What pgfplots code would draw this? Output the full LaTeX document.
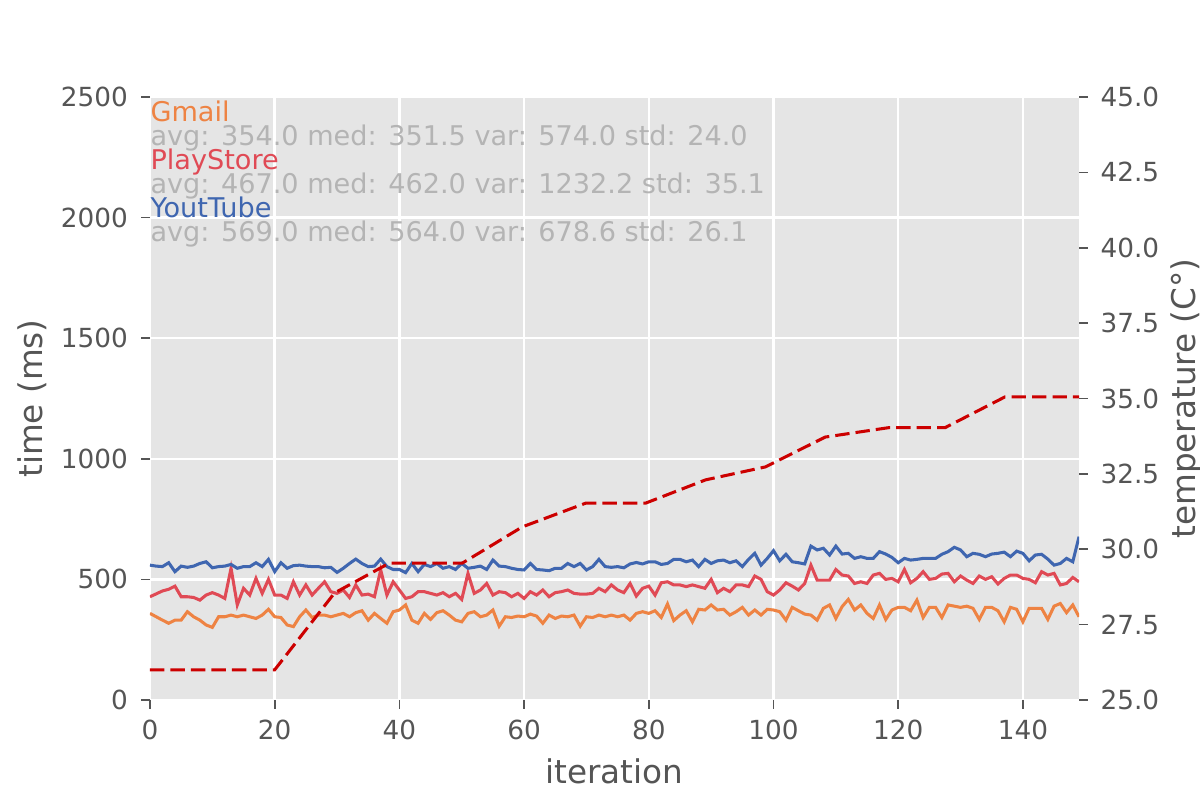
\documentclass[border=0pt]{standalone}
\usepackage{fontspec}
\setmainfont{DejaVu Sans}
\usepackage{pgfplots}
\usepackage{pgfplotstable}
\pgfplotsset{compat=1.18}
\definecolor{bg}{HTML}{E5E5E5}
\definecolor{tickc}{HTML}{555555}
\definecolor{gm}{HTML}{EE8343}
\definecolor{ps}{HTML}{E04A55}
\definecolor{yt}{HTML}{3F66B0}
\definecolor{tmp}{HTML}{CC0000}
\definecolor{anno}{HTML}{B4B4B4}

\pgfplotstableread{
i g p y
0 359 428 559
1 345 440 555
2 331 452 553
3 318 459 569
4 331 472 532
5 331 428 555
6 366 428 550
7 345 425 555
8 331 414 566
9 311 435 573
10 301 445 548
11 345 435 553
12 345 421 555
13 352 546 562
14 345 394 546
15 352 463 553
16 345 435 553
17 338 504 569
18 352 442 553
19 376 500 583
20 345 435 532
21 342 435 569
22 311 421 546
23 304 490 557
24 345 435 559
25 373 477 555
26 342 435 553
27 352 463 553
28 352 490 548
29 345 449 550
30 352 442 529
31 359 456 546
32 345 425 566
33 362 477 584
34 370 435 566
35 331 439 553
36 359 428 555
37 338 539 584
38 318 435 553
39 366 490 541
40 373 456 541
41 394 421 528
42 331 428 566
43 318 449 532
44 359 449 562
45 334 442 553
46 362 435 566
47 370 445 546
48 352 428 553
49 331 442 541
50 324 417 566
51 359 525 546
52 366 442 550
53 345 456 555
54 352 483 541
55 373 435 580
56 306 449 555
57 345 445 553
58 342 428 546
59 348 442 541
60 345 421 539
61 356 449 566
62 348 435 541
63 318 456 539
64 352 428 536
65 338 445 546
66 348 449 546
67 345 456 566
68 352 442 553
69 306 439 566
70 345 439 539
71 342 442 553
72 352 463 583
73 345 449 553
74 352 477 550
75 345 456 553
76 352 445 548
77 331 483 564
78 359 431 570
79 366 463 564
80 359 472 573
81 370 435 573
82 342 486 562
83 398 490 566
84 329 477 583
85 352 477 583
86 370 470 573
87 324 477 580
88 376 470 553
89 373 463 583
90 394 500 566
91 373 445 577
92 376 463 580
93 352 449 569
94 366 477 577
95 384 477 553
96 352 470 583
97 373 514 608
98 352 500 559
99 376 449 587
100 373 435 619
101 366 456 577
102 331 486 604
103 384 472 573
104 370 456 569
105 356 483 564
106 352 559 638
107 331 497 622
108 380 497 629
109 394 497 601
110 338 541 638
111 387 518 605
112 417 514 608
113 373 483 587
114 394 490 594
115 359 483 587
116 338 518 587
117 394 525 615
118 334 500 605
119 373 504 591
120 384 490 569
121 384 541 587
122 370 486 580
123 414 504 583
124 342 532 587
125 384 500 587
126 384 504 587
127 342 522 604
128 394 525 615
129 389 490 633
130 384 514 622
131 389 497 594
132 380 483 608
133 334 514 604
134 384 500 594
135 384 511 605
136 370 481 608
137 324 504 613
138 384 518 594
139 376 518 617
140 324 504 608
141 380 500 577
142 380 486 601
143 380 532 604
144 334 518 584
145 389 525 559
146 400 477 566
147 362 483 587
148 394 508 573
149 345 490 677
}\timing

\pgfplotstableread{
i t
0 26.0
20 26.0
29.6 28.55
38.4 29.54
50.1 29.54
59.7 30.74
69.9 31.53
79.5 31.53
89.1 32.3
98.7 32.73
108.3 33.72
118.4 34.03
127.5 34.03
137.1 35.05
149 35.05
}\temps

\pgfplotsset{
  common/.style={
    scale only axis,
    width=335.7pt, height=217.9pt,
    at={(54.2pt,36.14pt)}, anchor=south west,
    xmin=0, xmax=149,
    axis line style={draw=none},
    tick align=outside,
    major tick length=3.2pt,
    every tick/.style={tickc, line width=0.6pt},
    tick label style={font=\fontsize{9.5}{11.4}\selectfont, text=tickc},
    /pgf/number format/assume math mode=true,
    /pgf/number format/1000 sep={},
    scaled ticks=false,
  }
}

\begin{document}
\begin{tikzpicture}
\useasboundingbox (0,0) rectangle (433.62pt,289.08pt);
\begin{axis}[common,
  ymin=0, ymax=2500,
  xtick={0,20,...,140},
  ytick={0,500,...,2500},
  tick pos=left,
  axis background/.style={fill=bg},
  grid=major,
  major grid style={white, line width=0.9pt},
  xticklabel style={inner sep=0pt, anchor=north, yshift=-4pt},
  yticklabel style={inner sep=0pt, anchor=east, xshift=-4.6pt},
  xlabel={iteration}, ylabel={time (ms)},
  every axis x label/.style={at={(axis description cs:0.5,-0.119)}, anchor=center,
    font=\fontsize{11.8}{14}\selectfont, text=tickc},
  every axis y label/.style={at={(axis description cs:-0.127,0.5)}, rotate=90, anchor=center,
    font=\fontsize{11.8}{14}\selectfont, text=tickc},
]
\addplot[gm, line width=1.1pt] table[x=i, y=g] {\timing};
\addplot[ps, line width=1.1pt] table[x=i, y=p] {\timing};
\addplot[yt, line width=1.1pt] table[x=i, y=y] {\timing};
\begin{scope}[every node/.style={anchor=base west, inner sep=0pt, font=\fontsize{9.8}{12}\selectfont}]
\node[text=gm] at (axis cs:0,2400) {Gmail};
\node[text=anno] at (axis cs:0,2300) {avg: 354.0 med: 351.5 var: 574.0 std: 24.0};
\node[text=ps] at (axis cs:0,2200) {PlayStore};
\node[text=anno] at (axis cs:0,2100) {avg: 467.0 med: 462.0 var: 1232.2 std: 35.1};
\node[text=yt] at (axis cs:0,2000) {YoutTube};
\node[text=anno] at (axis cs:0,1900) {avg: 569.0 med: 564.0 var: 678.6 std: 26.1};
\end{scope}
\end{axis}
\begin{axis}[common,
  ymin=25, ymax=45,
  hide x axis,
  axis y line*=right,
  ytick={25,27.5,...,45},
  yticklabel style={inner sep=0pt, anchor=west, xshift=4.4pt,
    /pgf/number format/.cd, fixed, fixed zerofill, precision=1},
  ylabel={temperature (C°)},
  every axis y label/.style={at={(axis description cs:1.116,0.5)}, rotate=90, anchor=center,
    font=\fontsize{11.8}{14}\selectfont, text=tickc},
]
\addplot[tmp, line width=1.1pt, dash pattern=on 5.2pt off 2.2pt] table[x=i, y=t] {\temps};
\end{axis}
\end{tikzpicture}
\end{document}
